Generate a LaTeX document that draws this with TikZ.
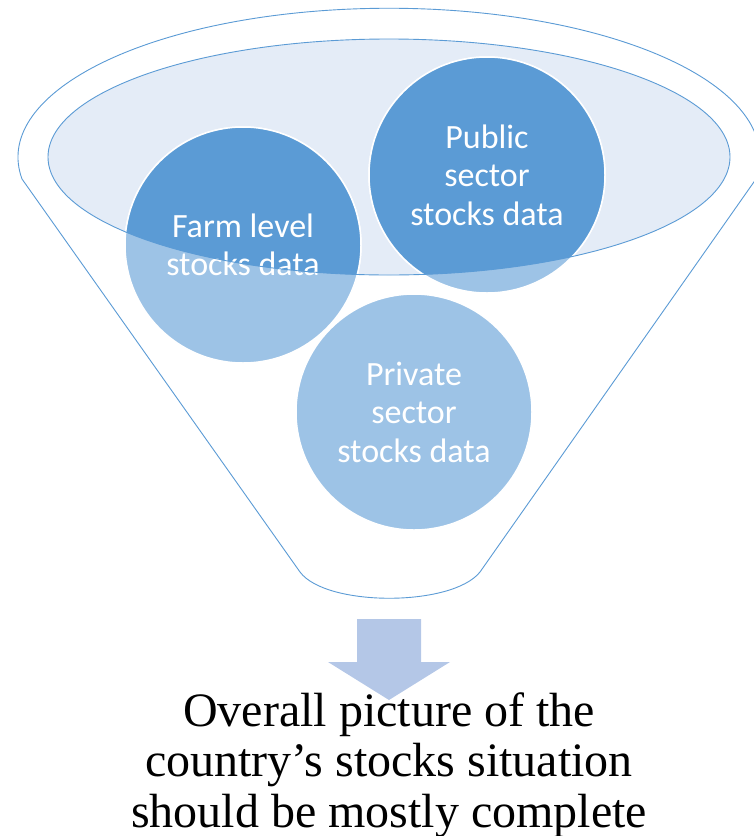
\documentclass[tikz,border=0pt]{standalone}
\usepackage{fontspec}
\setmainfont{Liberation Serif}
\newfontfamily\calibri{Carlito}
\definecolor{accent}{HTML}{5B9BD5}
\definecolor{lightacc}{HTML}{9DC3E6}
\definecolor{mouthfill}{HTML}{E4ECF7}
\definecolor{arrowfill}{HTML}{B4C7E7}

\begin{document}
\begin{tikzpicture}[x=1pt, y=-1pt,
    bubble/.style={circle, draw=white, line width=1.5pt, fill=lightacc,
        minimum size=236pt, inner sep=0pt},
    bubbletext/.style={text=white, align=center,
        font=\calibri\fontsize{34}{38.5}\selectfont},
    outline/.style={draw=accent, line width=0.9pt}
]
    \useasboundingbox (0,0) rectangle (754,836);
    \draw[outline, fill=white] (22,179)
        arc[start angle=171.6, end angle=368.4, x radius=371, y radius=149]
        -- (480,572) .. controls (452,607) and (326,607) .. (300,572) -- cycle;
    \fill[mouthfill] (389,157) ellipse [x radius=341, y radius=118];
    \node[bubble] (farm) at (243,245) {};
    \node[bubble] (pub) at (487,175) {};
    \node[bubble] (priv) at (414,412) {};
    \begin{scope}
        \clip (389,157) ellipse [x radius=341, y radius=118];
        \foreach \b in {farm, pub, priv}
            \draw[white, line width=1.5pt, fill=accent] (\b) circle [radius=118];
    \end{scope}
    \node[bubbletext] (farmtext) at (farm) {Farm level\\stocks data};
    \node[bubbletext] (pubtext) at (pub) {Public\\sector\\stocks data};
    \node[bubbletext] (privtext) at (priv) {Private\\sector\\stocks data};
    \draw[outline] (389,157) ellipse [x radius=341, y radius=118];
    \fill[arrowfill] (357,619) -- (421,619) -- (421,662) -- (450,662)
        -- (389,700) -- (328,662) -- (357,662) -- cycle;
    \node[align=center, font=\fontsize{48}{50.5}\selectfont] (result) at (389,765)
        {Overall picture of the\\country’s stocks situation\\should be mostly complete};
\end{tikzpicture}
\end{document}
